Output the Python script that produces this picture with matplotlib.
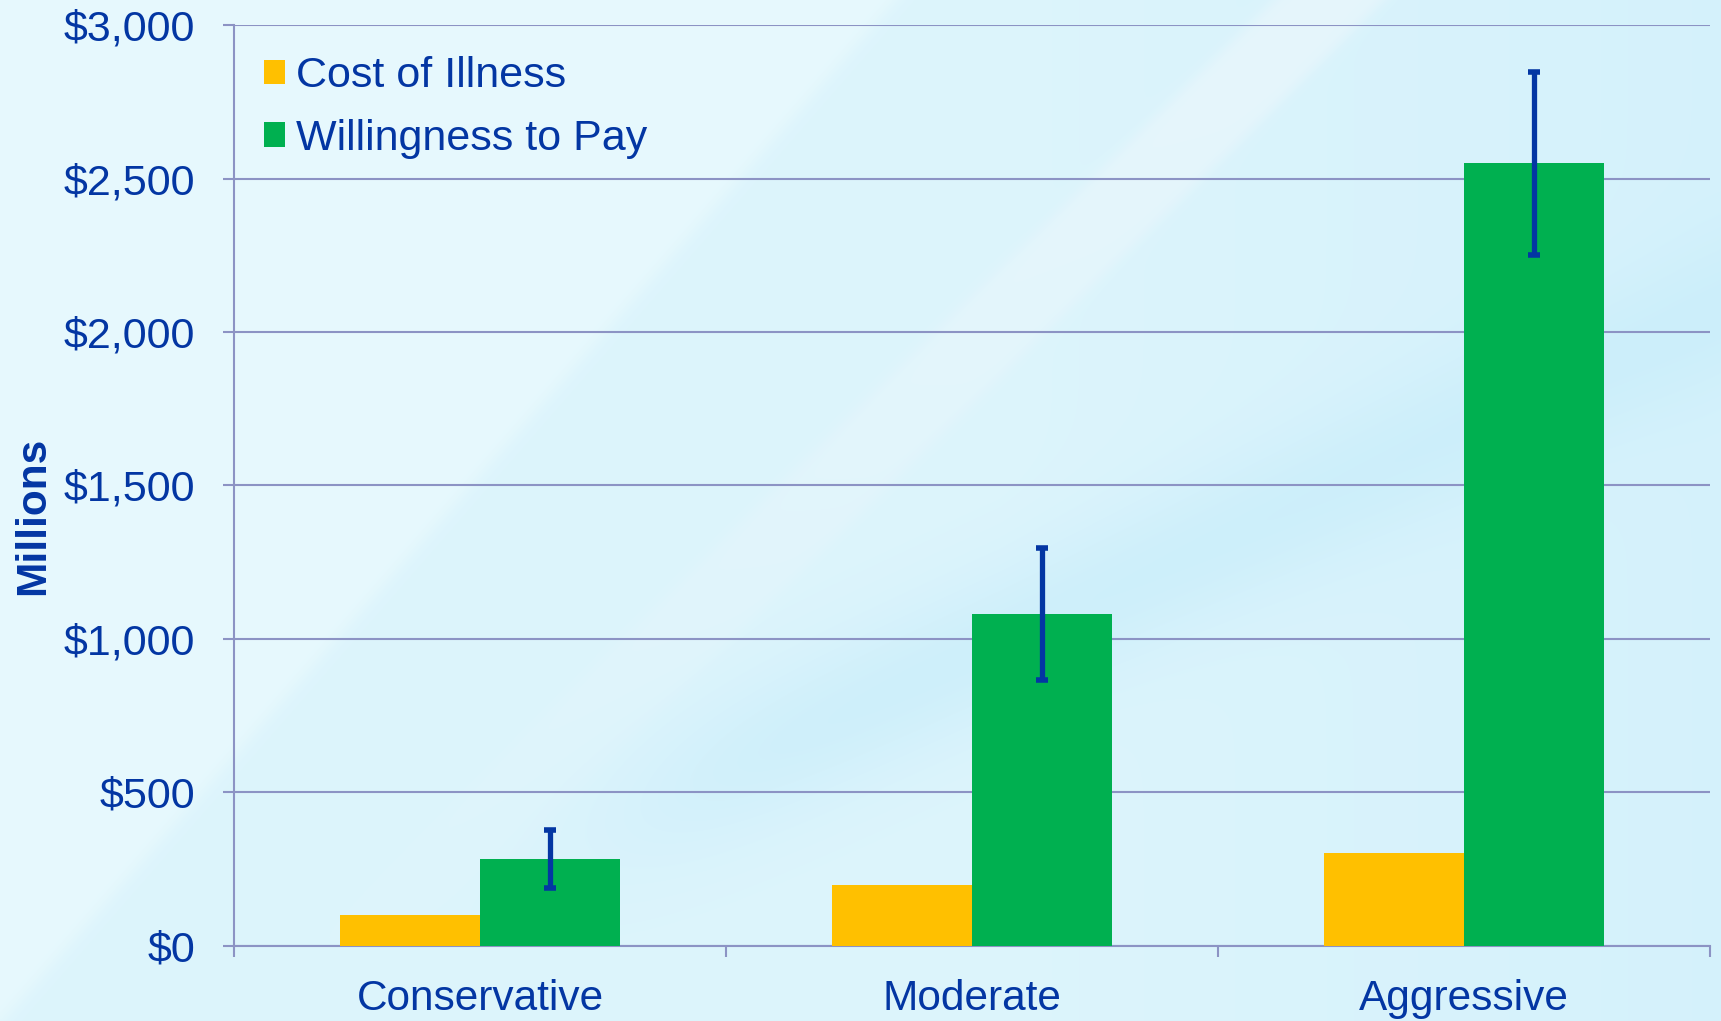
import numpy as np
import matplotlib
matplotlib.use("Agg")
import matplotlib.pyplot as plt

categories = ["Conservative", "Moderate", "Aggressive"]
cost_of_illness = [100, 200, 303]
willingness_to_pay = [283, 1082, 2550]
wtp_error = [95, 215, 298]
y_ticks = [0, 500, 1000, 1500, 2000, 2500, 3000]
y_labels = ["$0", "$500", "$1,000", "$1,500", "$2,000", "$2,500", "$3,000"]

TEXT = "#0336A3"
GRID = "#8C93C4"
ORANGE = "#FFC000"
GREEN = "#00B050"

plt.rcParams["font.family"] = ["Liberation Sans", "DejaVu Sans"]

fig = plt.figure(figsize=(17.21, 10.21), dpi=100)


def sig(z):
    return 1 / (1 + np.exp(-z))


def blend(img, mask, color):
    m = mask[..., None]
    return img * (1 - m) + np.array(color) * m


# background: light cyan with a whiter diagonal streak and a deeper cyan band
X, Y = np.meshgrid(np.linspace(0, 1721, 860), np.linspace(0, 1021, 510))
img = np.ones(X.shape + (3,)) * np.array([0.905, 0.975, 0.993])
xb = 896 - 0.875 * Y
img = blend(img, sig((X - xb) / 6), [0.865, 0.958, 0.988])
img = blend(img, np.clip((X - 1000) / 700, 0, 1) * sig((X - xb) / 6), [0.835, 0.948, 0.986])
xc = 1330 - 1.02 * Y
streak = sig((X - (xc - 55)) / 5) * sig(((xc + 55) - X) / 5) * np.clip(1.1 - Y / 900, 0, 1)
img = blend(img, 0.75 * streak, [0.915, 0.965, 0.988])
yc = 749 - 0.4586 * (X - 768)
band = np.exp(-((Y - yc) / 80) ** 2) * sig((X - 650) / 60)
img = blend(img, 0.7 * band, [0.785, 0.930, 0.980])
img = np.clip(img, 0, 1)
bg = fig.add_axes([0, 0, 1, 1], zorder=-10)
bg.imshow(img, aspect="auto", extent=[0, 1, 0, 1], interpolation="bilinear")
bg.axis("off")

ax = fig.add_axes([0.136, 0.0735, 0.8576, 0.902])
ax.patch.set_alpha(0)

x = np.arange(len(categories))
w = 0.285
ax.bar(x - w / 2, cost_of_illness, w, color=ORANGE, label="Cost of Illness", zorder=3)
ax.bar(x + w / 2, willingness_to_pay, w, color=GREEN, label="Willingness to Pay", zorder=3)
ax.errorbar(x + w / 2, willingness_to_pay, yerr=wtp_error, fmt="none", ecolor=TEXT,
            elinewidth=3.8, capsize=4.3, capthick=4, zorder=4)

ax.set_xlim(-0.5, 2.5)
ax.set_ylim(0, 3000)
ax.set_yticks(y_ticks)
ax.set_yticklabels(y_labels)
ax.yaxis.grid(True, color=GRID, lw=1.5, zorder=0)
ax.set_axisbelow(True)

ax.set_xticks([-0.5, 0.5, 1.5, 2.5])
ax.set_xticklabels([])
ax.set_xticks(x, minor=True)
ax.set_xticklabels(categories, minor=True)
ax.tick_params(axis="x", which="major", length=8, width=1.5, color=GRID)
ax.tick_params(axis="x", which="minor", length=0, pad=24, labelsize=30.5, labelcolor=TEXT)
ax.tick_params(axis="y", length=8, width=1.5, color=GRID, pad=20, labelsize=31, labelcolor=TEXT)

for s in ["top", "right"]:
    ax.spines[s].set_visible(False)
for s in ["left", "bottom"]:
    ax.spines[s].set_color(GRID)
    ax.spines[s].set_linewidth(1.5)

fig.text(33 / 1721, 1 - 516 / 1021, "Millions", rotation=90, ha="center", va="center",
         fontsize=30.5, fontweight="bold", color=TEXT)

leg = ax.legend(loc="upper left", bbox_to_anchor=(0.02, 0.966), frameon=False,
                fontsize=31, handlelength=0.5, handleheight=0.5, handletextpad=0.25,
                labelspacing=0.52, borderaxespad=0, borderpad=0)
for txt in leg.get_texts():
    txt.set_color(TEXT)

fig.savefig("out.png", dpi=100)
